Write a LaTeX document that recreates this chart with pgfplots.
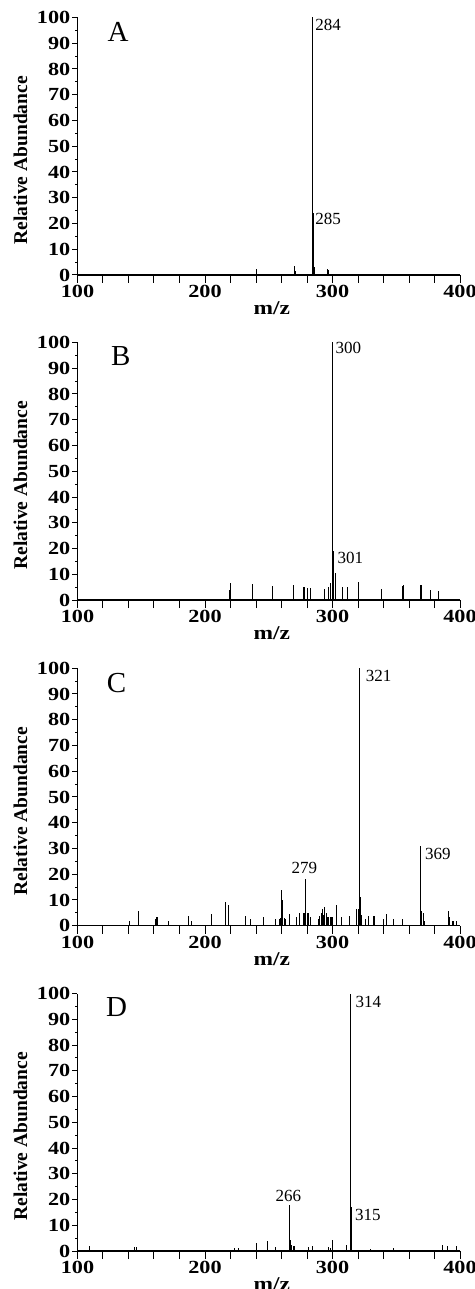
\documentclass[border=0pt]{standalone}
\usepackage{fontspec}
\setmainfont{Liberation Serif}
\newfontfamily\tickfont[FakeStretch=1.2]{Liberation Serif}
\usepackage{pgfplots}
\pgfplotsset{compat=1.18}

\pgfplotsset{
  ms/.style={
    scale only axis, width=382.5pt, height=257.5pt,
    xmin=100, xmax=400, ymin=0, ymax=100,
    axis x line*=bottom, axis y line*=left,
    axis line style={line width=1.2pt},
    tick align=outside, tick style={black, line width=1pt, line cap=butt},
    major tick length=8pt, minor tick length=5pt,
    xtick={100,120,...,400},
    xticklabels={100,,,,,200,,,,,300,,,,,400},
    ytick={0,10,...,100}, minor ytick={5,15,...,95},
    ytick style={dash pattern=on 0pt off 3pt on 5pt off 0pt},
    /pgf/number format/assume math mode=true,
    ticklabel style={font=\tickfont\bfseries\fontsize{18.5}{18.5}\selectfont},
    xticklabel style={inner sep=1pt, yshift=-1pt},
    yticklabel style={inner sep=1pt, xshift=2pt},
    xlabel={m/z}, ylabel={Relative Abundance},
    xlabel style={font=\tickfont\bfseries\fontsize{19.5}{19.5}\selectfont, at={(axis description cs:0.508,-0.13)}, anchor=center},
    ylabel style={font=\bfseries\fontsize{19.5}{19.5}\selectfont, at={(axis description cs:-0.149,0.445)}, anchor=center},
    clip=false, anchor=south west,
  },
  pk/.style={ycomb, black, line width=0.9pt, mark=none},
}
\tikzset{
  plab/.style={font=\fontsize{17}{17}\selectfont, inner sep=0pt},
  letter/.style={font=\fontsize{29}{29}\selectfont, inner sep=0pt},
}

\begin{document}
\begin{tikzpicture}
% A
\begin{axis}[ms, at={(0pt,0pt)}]
\addplot[pk] coordinates {
(240,2.5)(270,3.5)(271,1.5)(284,100)(285,24)(286,3)(296,2.5)(297,2)};
\node[letter] at (axis cs:131.8,94.3) {A};
\node[plab, anchor=west] at (axis cs:286.5,97) {284};
\node[plab, anchor=west] at (axis cs:286.5,21.7) {285};
\end{axis}
% B
\begin{axis}[ms, at={(0pt,-325pt)}]
\addplot[pk] coordinates {
(219,4)(220,6.5)(237,6.3)(253,5.5)(269,6)(277,5)(278,5)(280,4.5)(283,4.6)
(294,4.3)(297,5)(298,6.5)(300,100)(301,19)(302,10.5)(308,5)(312,5)(320,7)
(338,4.4)(355,5.5)(356,5.7)(369,6)(370,6)(377,4)(383,3.6)};
\node[letter] at (axis cs:133.9,94.7) {B};
\node[plab, anchor=west] at (axis cs:302.3,97.7) {300};
\node[plab, anchor=west] at (axis cs:303.8,16.2) {301};
\end{axis}
% C
\begin{axis}[ms, at={(0pt,-650.7pt)}]
\addplot[pk] coordinates {
(141,2)(148,5.6)(161,2.5)(162,3.4)(163,3.5)(171,2)(187,3.6)(189,2)(205,4.4)
(216,9.1)(218,8)(232,3.9)(236,2.5)(246,3.3)(255,2.6)(258,2.6)(259,3)(260,13.7)
(261,10)(262,3)(263,2.5)(266,4.4)(272,3.4)(274,5)(277,5)(278,5)(279,18)(280,5)
(281,5)(283,3.4)(289,2.5)(290,3.8)(291,5)(292,6.6)(293,4)(294,7.2)(295,5)
(296,3.5)(297,3.4)(298,3.4)(299,3.4)(300,3.4)(303,8)(307,3.4)(313,3.6)
(319,6.6)(320,6.6)(321,100)(322,11)(323,4)(326,2.5)(328,3.6)(332,3.6)(333,3.6)
(340,2.5)(342,4.4)(348,2.7)(355,2.7)(369,31)(370,5.7)(371,5)(372,2)
(391,5.6)(392,3.4)(394,2)(395,2)(397,2)};
\node[letter] at (axis cs:130.7,94.4) {C};
\node[plab, anchor=west] at (axis cs:326,97) {321};
\node[plab, anchor=west] at (axis cs:372.5,27.9) {369};
\node[plab] at (axis cs:278,22.6) {279};
\end{axis}
% D
\begin{axis}[ms, at={(0pt,-976pt)}]
\addplot[pk] coordinates {
(109,2)(145,1.5)(146,1.5)(223,1.2)(226,1.2)(240,3.2)(249,3.9)(255,1.7)
(266,18)(267,4.3)(268,2.5)(269,2)(270,2)(281,1.7)(284,2)(297,1.5)(298,1.2)
(300,4.3)(311,2.2)(314,100)(315,17)(330,0.8)(348,1)(386,2.2)(390,2)(397,1.8)};
\node[letter] at (axis cs:130.7,94.8) {D};
\node[plab, anchor=west] at (axis cs:318,96.6) {314};
\node[plab, anchor=west] at (axis cs:317.5,14) {315};
\node[plab] at (axis cs:265.4,21.5) {266};
\end{axis}
\pgfresetboundingbox
\path[use as bounding box] (-77.5pt,275pt) rectangle (396.5pt,-1014pt);
\end{tikzpicture}
\end{document}
